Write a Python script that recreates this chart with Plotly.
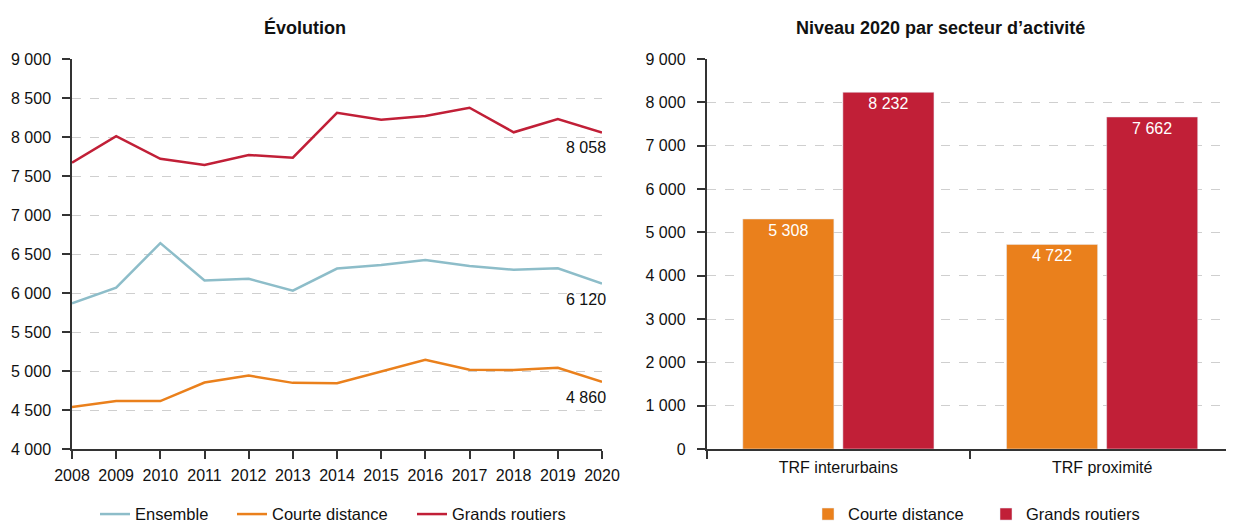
import plotly.graph_objects as go

years = list(range(2008, 2021))
ensemble = [5869, 6068, 6640, 6161, 6182, 6030, 6314, 6360, 6424, 6347, 6297, 6318, 6120]
courte = [4538, 4614, 4614, 4852, 4941, 4848, 4843, 4992, 5144, 5017, 5013, 5042, 4860]
grands = [7670, 8010, 7720, 7640, 7770, 7735, 8310, 8220, 8270, 8375, 8060, 8230, 8058]

sectors = ["TRF interurbains", "TRF proximité"]
bar_courte = [5308, 4722]
bar_grands = [8232, 7662]

BLUE = "#8DBDC9"
ORANGE = "#EA801C"
RED = "#C11F37"
FONT = "Liberation Sans, Arial, sans-serif"

# the page body has an 8px margin, so the figure is offset by 8px in the screenshot
OFF = 8
W, H = 1234 - OFF, 525 - OFF
# target positions in screenshot pixels
SL, SR, ST, SB = 72, 1234, 58.5, 449.5
ML, MR, MT, MB = SL - OFF, (1234 - SR), ST - OFF, (525 - SB)

def px_x(p):
    return (p - SL) / (SR - SL)

def px_y(p):
    return (SB - p) / (SB - ST)

def fmt(v):
    return f"{v:,}".replace(",", " ")

fig = go.Figure()
series = [("Ensemble", ensemble, BLUE, "legend"),
          ("Courte distance", courte, ORANGE, "legend2"),
          ("Grands routiers", grands, RED, "legend3")]
for name, vals, col, lg in series:
    fig.add_trace(go.Scatter(
        x=years, y=vals, name=name, mode="lines",
        line=dict(color=col, width=2.5), showlegend=True,
        xaxis="x", yaxis="y", legend=lg,
    ))

fig.add_trace(go.Bar(
    x=sectors, y=bar_courte, name="Courte distance", marker_color=ORANGE,
    texttemplate="%{y:,.0f}", textposition="inside", insidetextanchor="end",
    textfont=dict(size=16, color="white"), xaxis="x2", yaxis="y2", legend="legend4",
))
fig.add_trace(go.Bar(
    x=sectors, y=bar_grands, name="Grands routiers", marker_color=RED,
    texttemplate="%{y:,.0f}", textposition="inside", insidetextanchor="end",
    textfont=dict(size=16, color="white"), xaxis="x2", yaxis="y2", legend="legend5",
))

axis_common = dict(
    showline=True, linecolor="#333333", linewidth=1.5,
    ticks="outside", tickcolor="#333333", ticklen=8, tickwidth=1.5,
    tickfont=dict(size=16, color="#111111", family=FONT),
    zeroline=False, automargin=False,
)
grid = dict(showgrid=True, gridcolor="#cfcfcf", griddash="dash", gridwidth=1)

annotations = []
for name, vals, col, lg in series:
    annotations.append(dict(
        x=years[-1], y=vals[-1], xref="x", yref="y", text=fmt(vals[-1]),
        showarrow=False, xanchor="right", yanchor="top", xshift=6, yshift=-5,
        font=dict(size=16, color="#111111"),
    ))
annotations += [
    dict(text="<b>Évolution</b>", x=px_x(305), y=px_y(27), xref="paper", yref="paper",
         xanchor="center", yanchor="middle", showarrow=False, font=dict(size=18)),
    dict(text="<b>Niveau 2020 par secteur d’activité</b>", x=px_x(940), y=px_y(27),
         xref="paper", yref="paper", xanchor="center", yanchor="middle",
         showarrow=False, font=dict(size=18)),
]

def leg(xpix):
    return dict(orientation="h", x=px_x(xpix), xanchor="left", y=px_y(515), yanchor="middle",
                font=dict(size=16.5), itemwidth=30, bgcolor="rgba(0,0,0,0)", visible=True)

fig.update_layout(
    width=W, height=H,
    margin=dict(l=ML, r=MR, t=MT, b=MB, autoexpand=False),
    paper_bgcolor="white", plot_bgcolor="white",
    font=dict(family=FONT, size=16, color="#111111"),
    separators=", ",
    showlegend=True,
    barmode="group", bargap=0.241, bargroupgap=0.09,
    xaxis=dict(domain=[0, px_x(602)], range=[2008, 2020], dtick=1, tick0=2008,
               showgrid=False, ticklabelstandoff=3, **axis_common),
    yaxis=dict(range=[4000, 9000], dtick=500, tickformat=",.0f",
               ticklabelstandoff=8, **grid, **axis_common),
    xaxis2=dict(domain=[px_x(706.5), 1], anchor="y2", range=[-0.5, 1.5],
                tickson="boundaries", showgrid=False, ticklabelstandoff=3, **axis_common),
    yaxis2=dict(anchor="x2", range=[0, 9000], dtick=1000, tickformat=",.0f",
                ticklabelstandoff=8, **grid, **axis_common),
    legend=leg(95),
    legend2=leg(232),
    legend3=leg(412),
    legend4=leg(808),
    legend5=leg(986),
    annotations=annotations,
)

fig.write_html("out.html")
